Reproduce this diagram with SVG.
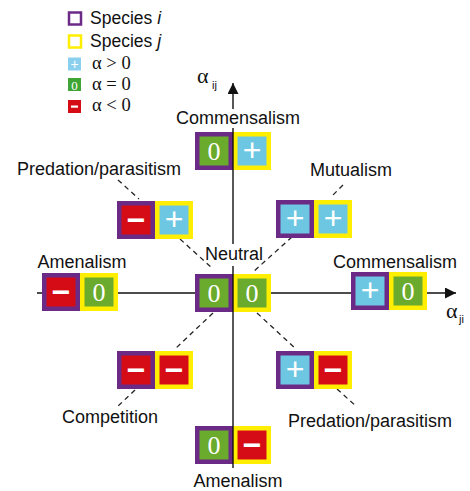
<svg xmlns="http://www.w3.org/2000/svg" width="470" height="491" viewBox="0 0 470 491">
<defs>
<marker id="arr" viewBox="0 0 10 10" refX="10" refY="5" markerWidth="11" markerHeight="11" markerUnits="userSpaceOnUse" orient="auto">
<path d="M0,0 L10,5 L0,10 Z" fill="#111"/>
</marker>
<style>
.pi{fill:#6b2a86}
.yj{fill:#ffee00}
.g{fill:#6aaa2c}
.b{fill:#6ec7e2}
.r{fill:#d50c16}
.z{font-family:"Liberation Serif",serif;font-size:26px;fill:#fff;text-anchor:middle}
.p{font-family:"Liberation Sans",sans-serif;font-size:32px;fill:#fff;text-anchor:middle}
.m{font-family:"Liberation Sans",sans-serif;font-size:32px;font-weight:bold;fill:#fff;text-anchor:middle}
.lab{font-family:"Liberation Sans",sans-serif;font-size:18px;fill:#111;text-anchor:middle}
.leg{font-family:"Liberation Sans",sans-serif;font-size:17.5px;fill:#111}
.al{font-family:"Liberation Serif",serif;font-size:18.5px;fill:#111}
.ax{font-family:"Liberation Serif",serif;font-size:22px;fill:#111}
.sub{font-family:"Liberation Sans",sans-serif;font-size:11px;fill:#111}
.ln{stroke:#111;stroke-width:1.4;fill:none}
.ds{stroke:#222;stroke-width:1.3;fill:none;stroke-dasharray:5 4}
</style>
</defs>
<rect width="470" height="491" fill="#fff"/>

<g id="legend">
<rect x="69" y="12.5" width="12" height="12" fill="#fff" stroke="#6b2a86" stroke-width="2.5"/>
<text class="leg" x="90" y="24">Species <tspan font-style="italic">i</tspan></text>
<rect x="69" y="35.5" width="12" height="12" fill="#fff" stroke="#ffee00" stroke-width="2.5"/>
<text class="leg" x="90" y="47">Species <tspan font-style="italic">j</tspan></text>
<rect x="68" y="57.5" width="13" height="13" fill="#8ad0ee"/>
<text x="74.5" y="68.5" font-family="Liberation Sans,sans-serif" font-size="14" fill="#fff" text-anchor="middle">+</text>
<text class="al" x="92" y="69">α &gt; 0</text>
<rect x="68" y="78" width="13" height="13" fill="#3fa535"/>
<text x="74.5" y="89.5" font-family="Liberation Serif,serif" font-size="13" fill="#fff" text-anchor="middle">0</text>
<text class="al" x="92" y="90">α = 0</text>
<rect x="68" y="100" width="13" height="13" fill="#d50c16"/>
<rect x="71" y="105.5" width="7" height="2.2" fill="#fff"/>
<text class="al" x="92" y="111">α &lt; 0</text>
</g>

<g id="connectors">
<line class="ln" x1="37" y1="293" x2="456" y2="293" marker-end="url(#arr)"/>
<line class="ln" x1="233" y1="109" x2="233" y2="83" marker-end="url(#arr)"/>
<line class="ln" x1="233" y1="128" x2="233" y2="244"/>
<line class="ln" x1="233" y1="266" x2="233" y2="468"/>
<line class="ds" x1="118" y1="180" x2="139" y2="199"/>
<line class="ds" x1="180" y1="239" x2="212" y2="268"/>
<line class="ds" x1="343" y1="185" x2="332" y2="196"/>
<line class="ds" x1="292" y1="237" x2="253" y2="272"/>
<line class="ds" x1="213" y1="313" x2="175" y2="349"/>
<line class="ds" x1="135" y1="390" x2="117" y2="407"/>
<line class="ds" x1="257" y1="313" x2="296" y2="349"/>
<line class="ds" x1="337" y1="389" x2="357" y2="407"/>
</g>

<g id="commensalism-top">
<rect class="pi" x="195" y="132" width="38" height="38"/><rect class="g" x="199.5" y="136.5" width="29" height="29"/>
<text class="z" x="214" y="160">0</text>
<rect class="yj" x="233" y="132" width="38" height="38"/><rect class="b" x="237.5" y="136.5" width="29" height="29"/>
<text class="p" x="252" y="161">+</text>
<line class="ln" x1="233" y1="132" x2="233" y2="170"/>
</g>

<g id="predation-tl">
<rect class="pi" x="117" y="201" width="38" height="38"/><rect class="r" x="121.5" y="205.5" width="29" height="29"/>
<text class="m" x="136" y="230.5">−</text>
<rect class="yj" x="155" y="201" width="38" height="38"/><rect class="b" x="159.5" y="205.5" width="29" height="29"/>
<text class="p" x="174" y="230">+</text>
</g>

<g id="mutualism">
<rect class="pi" x="276" y="200" width="38" height="38"/><rect class="b" x="280.5" y="204.5" width="29" height="29"/>
<text class="p" x="295" y="229">+</text>
<rect class="yj" x="314" y="200" width="38" height="38"/><rect class="b" x="318.5" y="204.5" width="29" height="29"/>
<text class="p" x="333" y="229">+</text>
</g>

<g id="amenalism-left">
<rect class="pi" x="42" y="273" width="38" height="38"/><rect class="r" x="46.5" y="277.5" width="29" height="29"/>
<text class="m" x="61" y="302.5">−</text>
<rect class="yj" x="80" y="273" width="38" height="38"/><rect class="g" x="84.5" y="277.5" width="29" height="29"/>
<text class="z" x="99" y="301">0</text>
</g>

<g id="neutral">
<rect class="pi" x="195" y="274" width="38" height="38"/><rect class="g" x="199.5" y="278.5" width="29" height="29"/>
<text class="z" x="214" y="302">0</text>
<rect class="yj" x="233" y="274" width="38" height="38"/><rect class="g" x="237.5" y="278.5" width="29" height="29"/>
<text class="z" x="252" y="302">0</text>
<line class="ln" x1="233" y1="274" x2="233" y2="312"/>
</g>

<g id="commensalism-right">
<rect class="pi" x="351" y="272" width="38" height="38"/><rect class="b" x="355.5" y="276.5" width="29" height="29"/>
<text class="p" x="370" y="301">+</text>
<rect class="yj" x="389" y="272" width="38" height="38"/><rect class="g" x="393.5" y="276.5" width="29" height="29"/>
<text class="z" x="408" y="300">0</text>
</g>

<g id="competition">
<rect class="pi" x="117" y="351" width="38" height="38"/><rect class="r" x="121.5" y="355.5" width="29" height="29"/>
<text class="m" x="136" y="380.5">−</text>
<rect class="yj" x="155" y="351" width="38" height="38"/><rect class="r" x="159.5" y="355.5" width="29" height="29"/>
<text class="m" x="174" y="380.5">−</text>
</g>

<g id="predation-br">
<rect class="pi" x="276" y="351" width="38" height="38"/><rect class="b" x="280.5" y="355.5" width="29" height="29"/>
<text class="p" x="295" y="380">+</text>
<rect class="yj" x="314" y="351" width="38" height="38"/><rect class="r" x="318.5" y="355.5" width="29" height="29"/>
<text class="m" x="333" y="380.5">−</text>
</g>

<g id="amenalism-bottom">
<rect class="pi" x="195" y="426" width="38" height="38"/><rect class="g" x="199.5" y="430.5" width="29" height="29"/>
<text class="z" x="214" y="454">0</text>
<rect class="yj" x="233" y="426" width="38" height="38"/><rect class="r" x="237.5" y="430.5" width="29" height="29"/>
<text class="m" x="252" y="455.5">−</text>
<line class="ln" x1="233" y1="426" x2="233" y2="464"/>
</g>

<g id="labels">
<text class="lab" x="238" y="124">Commensalism</text>
<text class="lab" x="99" y="175">Predation/parasitism</text>
<text class="lab" x="351" y="176">Mutualism</text>
<text class="lab" x="82" y="268">Amenalism</text>
<text class="lab" x="234" y="260">Neutral</text>
<text class="lab" x="395" y="268">Commensalism</text>
<text class="lab" x="110" y="423">Competition</text>
<text class="lab" x="370" y="427">Predation/parasitism</text>
<text class="lab" x="238" y="487">Amenalism</text>
<text class="ax" x="197" y="83">α</text><text class="sub" x="212" y="89">ij</text>
<text class="ax" x="446" y="318">α</text><text class="sub" x="459" y="323">ji</text>
</g>
</svg>
